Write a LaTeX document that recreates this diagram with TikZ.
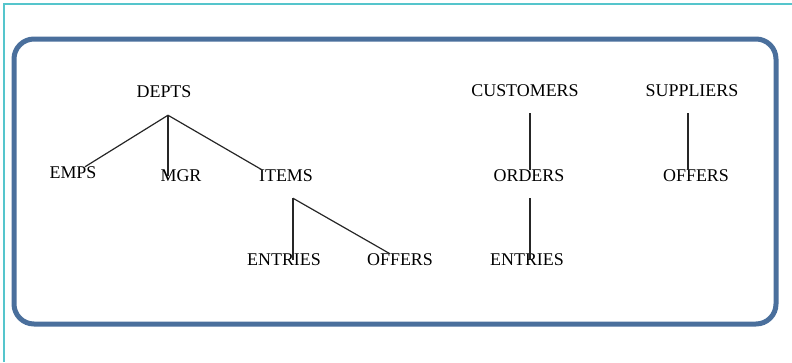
\documentclass[tikz,border=0pt]{standalone}
\usepackage{fontspec}
\setmainfont{Liberation Serif}
\definecolor{frameblue}{HTML}{4A6F9C}
\definecolor{edgecyan}{HTML}{55C5CC}
\tikzset{
  entity/.style={inner sep=0pt, font=\fontsize{18}{20}\selectfont},
  link/.style={draw=black!85, line width=1.2bp}
}
\begin{document}
\begin{tikzpicture}[x=1bp, y=-1bp]
            \useasboundingbox (0,0) rectangle (792,362);
            % thin page edge, top and left only
            \draw[edgecyan, line width=1.5bp] (4,362) -- (4,4) -- (792,4);
            % rounded frame round the whole schema
            \draw[frameblue, line width=5bp, rounded corners=20bp] (14,39) rectangle (776,324);
            % first tree: departments
            \node[entity] (depts) at (164,92) {DEPTS};
            \node[entity] (emps) at (73,173) {EMPS};
            \node[entity] (mgr) at (181,176) {MGR};
            \node[entity] (items) at (286,176) {ITEMS};
            \node[entity] (entriesa) at (284,260) {ENTRIES};
            \node[entity] (offersa) at (400,260) {OFFERS};
            % second tree: customers
            \node[entity] (customers) at (525,91) {CUSTOMERS};
            \node[entity] (orders) at (529,176) {ORDERS};
            \node[entity] (entriesb) at (527,260) {ENTRIES};
            % third tree: suppliers
            \node[entity] (suppliers) at (692,91) {SUPPLIERS};
            \node[entity] (offersb) at (696,176) {OFFERS};
            % branch points under each parent
            \coordinate (deptsj) at ([xshift=4bp,yshift=-17bp]depts.south);
            \coordinate (itemsj) at ([xshift=7bp,yshift=-16bp]items.south);
            \coordinate (custj) at ([xshift=5bp,yshift=-16bp]customers.south);
            \coordinate (ordersj) at ([xshift=1bp,yshift=-16bp]orders.south);
            \coordinate (suppj) at ([xshift=-4bp,yshift=-16bp]suppliers.south);
            % links of the first tree
            \draw[link] (deptsj) -- ([xshift=12bp]emps.north);
            \draw[link] (deptsj) -- (deptsj |- mgr);
            \draw[link] (deptsj) -- ([xshift=3bp]items.north west);
            \draw[link] (itemsj) -- (itemsj |- entriesa);
            \draw[link] (itemsj) -- ([xshift=-10bp]offersa.north);
            % links of the second and third tree
            \draw[link] (custj) -- (custj |- orders.north);
            \draw[link] (ordersj) -- (ordersj |- entriesb);
            \draw[link] (suppj) -- (suppj |- offersb.north);
        \end{tikzpicture}
\end{document}
